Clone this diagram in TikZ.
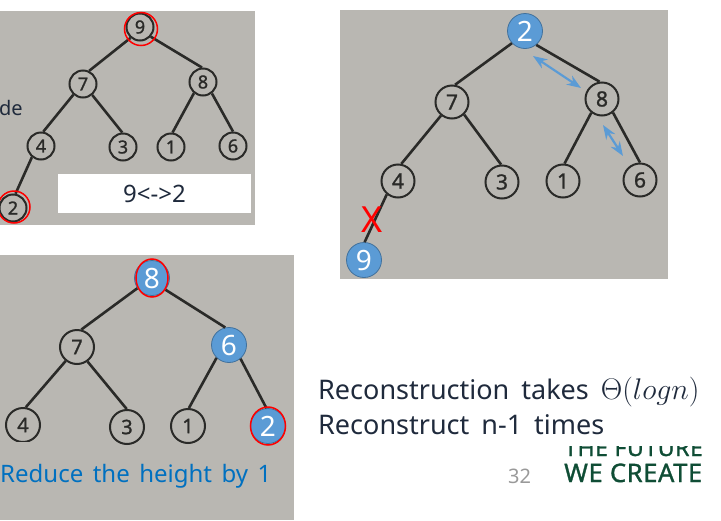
\documentclass[tikz,border=0pt]{standalone}
\usepackage{fontspec}
\setmainfont{Noto Sans}
\newfontfamily\keyfont[FakeBold=1.2]{Noto Sans}
\newfontfamily\logofont[FakeBold=1.2, LetterSpace=2.5]{Noto Sans}
\usetikzlibrary{arrows.meta, positioning, calc, shapes.geometric}

\begin{document}
\begin{tikzpicture}[
    x=1pt, y=-1pt,
    panel/.style={fill=photogray, draw=none},
    keynode/.style={circle, draw=inkblack, line width=2pt, minimum size=27pt, inner sep=0pt, text=inkblack, font=\fontsize{18}{18}\keyfont},
    keynode_large/.style={keynode, minimum size=33pt, font=\fontsize{21}{21}\keyfont},
    keynode_mid/.style={keynode, minimum size=34pt, font=\fontsize{20}{20}\keyfont},
    bluenode/.style={circle, draw=bluedark, fill=nodeblue, line width=0.8pt, minimum size=35pt, inner sep=0pt, text=white, font=\fontsize{28}{28}\selectfont},
    ring/.style={circle, draw=red, line width=1.5pt, inner sep=0pt},
    ringoval/.style={ellipse, draw=red, line width=1.5pt, inner sep=0pt},
    edge/.style={draw=inkblack, line width=2.6pt},
    swap_arrow/.style={{Stealth[scale=1.1]}-{Stealth[scale=1.1]}, draw=nodeblue, line width=2.2pt},
    body_text/.style={anchor=base west, text=textdark, inner sep=0pt, font=\fontsize{27}{27}\selectfont},
    logo_text/.style={anchor=base west, text=logogreen, inner sep=0pt, font=\fontsize{25.5}{25.5}\logofont}
]
    \definecolor{photogray}{HTML}{B9B7B2}
    \definecolor{inkblack}{HTML}{2A2A28}
    \definecolor{nodeblue}{HTML}{5B9BD5}
    \definecolor{bluedark}{HTML}{41719C}
    \definecolor{textdark}{HTML}{1F2A3C}
    \definecolor{logogreen}{HTML}{0F4D35}
    \definecolor{reduceblue}{HTML}{0070C0}

    \useasboundingbox (0,0) rectangle (721,520);

    % Panels
    \fill[panel] (0,11) rectangle (255,225);
    \fill[panel] (340,10) rectangle (668,279);
    \fill[panel] (0,255) rectangle (294,520);

    % Left text fragment
    \node[anchor=base west, inner sep=0pt, text=textdark, font=\fontsize{20}{20}\selectfont] (nodeword) at (-1,115) {de};

    % Top left tree
    \node[keynode] (a9) at (140,27) {9};
    \node[keynode] (a7) at (83,84) {7};
    \node[keynode] (a8) at (203,82) {8};
    \node[keynode] (a4) at (41,146) {4};
    \node[keynode] (a3) at (123,147) {3};
    \node[keynode] (a1) at (171,147) {1};
    \node[keynode] (a6) at (233,146) {6};
    \node[keynode] (a2) at (13,208) {2};
    \draw[edge] (a9.229) -- (a7.65);
    \draw[edge] (a9.318) -- (a8.94);
    \draw[edge] (a7.228) -- (a4.81);
    \draw[edge] (a7.310) -- (a3.93);
    \draw[edge] (a8.231) -- (a1.84);
    \draw[edge] (a8.308) -- (a6.90);
    \draw[edge] (a4.231) -- (a2.80);
    \node[ring, minimum size=33pt] (ringa9) at (141,29) {};
    \node[ring, minimum size=32pt] (ringa2) at (14,207) {};

    % Swap label
    \node[fill=white, minimum width=193pt, minimum height=39pt, inner sep=0pt, text=textdark, font=\fontsize{24}{24}\selectfont] (swaplabel) at (154.5,193.5) {9<->2};

    % Right tree
    \node[bluenode] (b2) at (525,31) {2};
    \node[keynode_large] (b7) at (452,102) {7};
    \node[keynode_large] (b8) at (602,99) {8};
    \node[keynode_large] (b4) at (398,181) {4};
    \node[keynode_large] (b3) at (502,182) {3};
    \node[keynode_large] (b1) at (563,181) {1};
    \node[keynode_large] (b6) at (640,180) {6};
    \node[bluenode] (b9) at (364,260) {9};
    \draw[edge] (b2.223) -- (b7.80);
    \draw[edge] (b2.309) -- (b8.98);
    \draw[edge] (b7.231) -- (b4.79);
    \draw[edge] (b7.314) -- (b3.93);
    \draw[edge] (b8.232) -- (b1.85);
    \draw[edge] (b8.309) -- (b6.90);
    \draw[edge] (b4.230) -- (b9.88);
    \node[text=red, inner sep=0pt, font=\fontsize{36}{36}\selectfont] (cut) at (372,220) {X};

    % Swap arrows
    \coordinate (s1_start) at (533,56);
    \coordinate (s1_end) at (581,88);
    \coordinate (s2_start) at (603,125);
    \coordinate (s2_end) at (623,156);
    \draw[swap_arrow] (s1_start) -- (s1_end);
    \draw[swap_arrow] (s2_start) -- (s2_end);

    % Bottom left tree
    \node[bluenode] (c8) at (152,278) {8};
    \node[keynode_mid] (c7) at (77,347) {7};
    \node[bluenode] (c6) at (229,345) {6};
    \node[keynode_mid] (c4) at (23,425) {4};
    \node[keynode_mid] (c3) at (127,427) {3};
    \node[keynode_mid] (c1) at (188,426) {1};
    \node[bluenode] (c2) at (268,426) {2};
    \draw[edge] (c8.215) -- (c7.76);
    \draw[edge] (c8.319) -- (c6.102);
    \draw[edge] (c7.231) -- (c4.81);
    \draw[edge] (c7.306) -- (c3.91);
    \draw[edge] (c6.226) -- (c1.87);
    \draw[edge] (c6.310) -- (c2.95);
    \fill[panel] (0,442) rectangle (60,470);
    \node[ringoval, minimum width=32pt, minimum height=38pt] (ringc8) at (152,278) {};
    \node[ringoval, minimum width=35pt, minimum height=38pt] (ringc2) at (268,426) {};
    \node[anchor=base west, inner sep=0pt, text=reduceblue, font=\fontsize{24}{24}\selectfont] (reduce) at (0,482) {\spaceskip=9.5pt Reduce the height by 1};

    % Notes
    \node[body_text] (note1) at (318,399) {\spaceskip=12pt Reconstruction takes \scalebox{1.2}{$\Theta(logn)$}};
    \node[body_text] (note2) at (318,434) {\spaceskip=12pt Reconstruct n-1 times};

    % Page number and logo
    \node[anchor=base west, inner sep=0pt, text=gray!80, font=\fontsize{20}{20}\selectfont] (pagenum) at (508,483) {32};
    \begin{scope}
        \clip (540,446) rectangle (721,470);
        \node[logo_text, font=\fontsize{23}{23}\logofont] (logo1) at (564,456) {THE FUTURE};
    \end{scope}
    \node[logo_text] (logo2) at (564,482) {WE CREATE};

\end{tikzpicture}
\end{document}
